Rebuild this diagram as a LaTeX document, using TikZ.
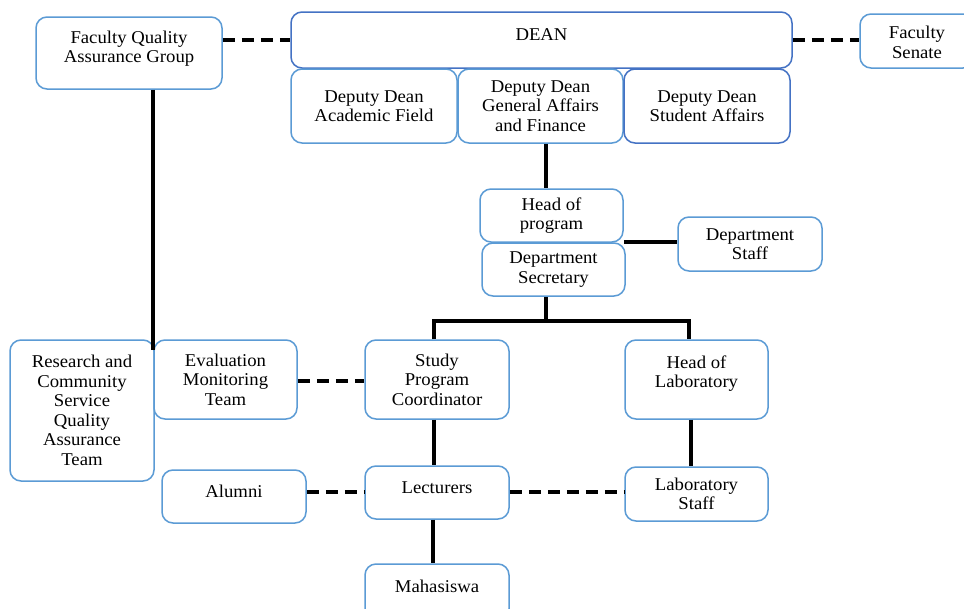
\documentclass[tikz,border=0pt]{standalone}
\usepackage{fontspec}
\setmainfont[FakeStretch=1.04]{Liberation Serif}
\definecolor{lightb}{HTML}{5B9BD5}
\definecolor{darkb}{HTML}{4472C4}
\begin{document}
\begin{tikzpicture}[x=1pt,y=-1pt,
  box/.style={draw=lightb, line width=1.5pt, rounded corners=11pt, fill=white,
    inner sep=0pt, align=center, font=\fontsize{18}{19.5}\selectfont},
  darkbox/.style={box, draw=darkb},
  every label/.style={align=center, font=\fontsize{18}{19.5}\selectfont, inner sep=0pt},
  solidline/.style={line width=4pt, black},
  dashline/.style={line width=4pt, black, dash pattern=on 12pt off 7pt}]
\clip (0,0) rectangle (964,608);
\fill[white] (0,0) rectangle (964,608);

\coordinate (fq) at (153,350);
\coordinate (tj) at (546,321);

% boxes
\node[box, minimum width=186, minimum height=72,
  label={[yshift=4.5pt]center:Faculty Quality\\Assurance Group}] (fqag) at (129,53) {};
\node[darkbox, minimum width=501, minimum height=56,
  label={[yshift=5pt]center:DEAN}] (dean) at (541.5,40) {};
\node[box, minimum width=166, minimum height=74] (dda) at (374,106) {Deputy Dean\\Academic Field};
\node[box, minimum width=165, minimum height=74] (ddg) at (540.5,106) {Deputy Dean\\General Affairs\\and Finance};
\node[darkbox, minimum width=166, minimum height=74] (dds) at (707,106) {Deputy Dean\\Student Affairs};
\node[box, minimum width=114, minimum height=54, label={[yshift=-1.5pt]center:Faculty\\Senate}] (senate) at (917,41) {};
\node[box, minimum width=143, minimum height=53] (hop) at (551.5,215.5) {Head of\\program};
\node[box, minimum width=143, minimum height=53] (dsec) at (553.5,269.5) {Department\\Secretary};
\node[box, minimum width=144, minimum height=54] (dstaff) at (750,244) {Department\\Staff};
\node[box, minimum width=144, minimum height=141] (rcs) at (82,410.5) {Research and\\Community\\Service\\Quality\\Assurance\\Team};
\node[box, minimum width=143, minimum height=79] (emt) at (225.5,379.5) {Evaluation\\Monitoring\\Team};
\node[box, minimum width=144, minimum height=79] (spc) at (437,379.5) {Study\\Program\\Coordinator};
\node[box, minimum width=143, minimum height=79,
  label={[yshift=6pt]center:Head of\\Laboratory}] (hlab) at (696.5,379.5) {};
\node[box, minimum width=144, minimum height=53,
  label={[yshift=5pt]center:Alumni}] (alumni) at (234,496.5) {};
\node[box, minimum width=144, minimum height=53,
  label={[yshift=5pt]center:Lecturers}] (lect) at (437,492.5) {};
\node[box, minimum width=143, minimum height=54] (lstaff) at (696.5,494) {Laboratory\\Staff};
\node[box, minimum width=144, minimum height=56,
  label={[yshift=6pt]center:Mahasiswa}] (maha) at (437,592) {};

% connectors
\draw[dashline] (fqag.east |- 0,40) -- (dean.west |- 0,40);
\draw[dashline] (dean.east |- 0,40) -- (senate.west |- 0,40);
\draw[solidline] (fqag.south -| fq) -- (fq);
\draw[solidline] (ddg.south -| tj) -- (hop.north -| tj);
\draw[solidline] (hop.east |- 0,242) -- (dstaff.west |- 0,242);
\draw[solidline] (dsec.south -| tj) -- (tj);
\draw[solidline] (spc.north -| 434,0) |- (tj) -| (hlab.north -| 689,0);
\draw[dashline] (emt.east |- 0,381) -- (spc.west |- 0,381);
\draw[solidline] (spc.south -| 434,0) -- (lect.north -| 434,0);
\draw[solidline] (hlab.south -| 691,0) -- (lstaff.north -| 691,0);
\draw[dashline] (alumni.east |- 0,492) -- (lect.west |- 0,492);
\draw[dashline] (lect.east |- 0,492) -- (lstaff.west |- 0,492);
\draw[solidline] (lect.south -| 433,0) -- (maha.north -| 433,0);
\end{tikzpicture}
\end{document}
